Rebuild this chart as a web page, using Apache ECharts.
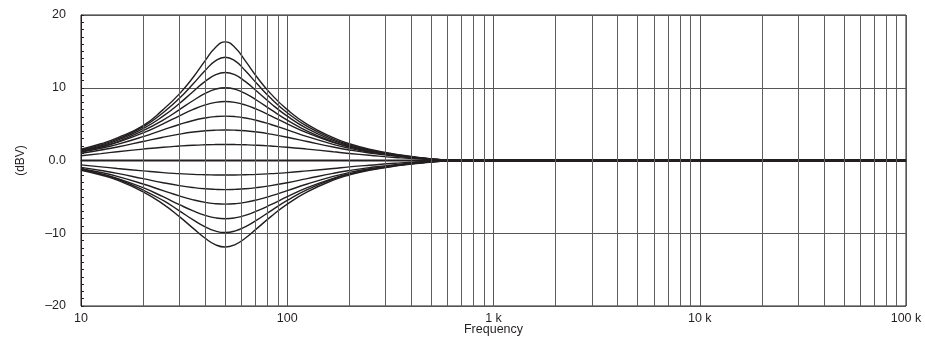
<!DOCTYPE html>
<html>
<head>
<meta charset="utf-8">
<script src="https://cdn.jsdelivr.net/npm/echarts@6/dist/echarts.min.js"></script>
<style>
  html, body { margin: 0; padding: 0; background: #fff; }
  #eqchart { width: 925px; height: 338px; }
</style>
</head>
<body>
<div id="eqchart"></div>
<script>
// frequency points (Hz) shared by every curve
var freqs = [10, 12.5, 15, 20, 25, 30, 35, 40, 45, 50, 55.6, 62.5, 71.4, 83.3, 100, 125, 167, 200, 250, 333, 500, 700, 100000];

// boost curves (dB)
var boost2  = [0.65, 0.95, 1.20, 1.57, 1.83, 1.99, 2.10, 2.16, 2.19, 2.2, 2.19, 2.16, 2.10, 1.99, 1.83, 1.57, 1.20, 0.97, 0.72, 0.42, 0.12, 0, 0];
var boost4  = [1.00, 1.45, 1.86, 2.61, 3.20, 3.62, 3.91, 4.08, 4.17, 4.2, 4.17, 4.08, 3.91, 3.62, 3.20, 2.61, 1.86, 1.45, 1.03, 0.60, 0.15, 0, 0];
var boost6  = [1.16, 1.68, 2.22, 3.28, 4.21, 4.95, 5.50, 5.85, 6.04, 6.1, 6.04, 5.85, 5.50, 4.95, 4.21, 3.28, 2.22, 1.68, 1.16, 0.68, 0.17, 0, 0];
var boost8  = [1.26, 1.85, 2.48, 3.79, 5.04, 6.14, 7.02, 7.64, 7.99, 8.1, 7.99, 7.64, 7.02, 6.14, 5.04, 3.79, 2.48, 1.85, 1.26, 0.72, 0.18, 0, 0];
var boost10 = [1.28, 1.89, 2.57, 4.10, 5.55, 6.99, 8.25, 9.22, 9.81, 10.0, 9.81, 9.22, 8.25, 6.99, 5.55, 4.04, 2.57, 1.89, 1.28, 0.74, 0.19, 0, 0];
var boost12 = [1.36, 2.02, 2.76, 4.38, 6.10, 7.84, 9.49, 10.87, 11.79, 12.1, 11.79, 10.87, 9.49, 7.84, 6.10, 4.38, 2.76, 2.02, 1.36, 0.78, 0.20, 0, 0];
var boost14 = [1.45, 2.15, 2.94, 4.62, 6.57, 8.55, 10.54, 12.38, 13.72, 14.2, 13.72, 12.38, 10.54, 8.55, 6.57, 4.68, 2.94, 2.15, 1.45, 0.83, 0.21, 0, 0];
var boost16 = [1.55, 2.30, 3.10, 4.80, 6.99, 9.16, 11.44, 13.72, 15.58, 16.3, 15.58, 13.72, 11.44, 9.16, 6.99, 4.97, 3.13, 2.30, 1.55, 0.88, 0.22, 0, 0];

// flat setting
var flat0 = [0, 0, 0, 0, 0, 0, 0, 0, 0, 0, 0, 0, 0, 0, 0, 0, 0, 0, 0, 0, 0, 0, 0];

// cut curves (dB)
var cut2  = [-0.60, -0.87, -1.10, -1.43, -1.67, -1.81, -1.91, -1.96, -1.99, -2.0, -1.99, -1.96, -1.91, -1.81, -1.67, -1.43, -1.10, -0.88, -0.65, -0.38, -0.11, 0, 0];
var cut4  = [-0.95, -1.38, -1.77, -2.49, -3.05, -3.45, -3.72, -3.89, -3.97, -4.0, -3.97, -3.89, -3.72, -3.45, -3.05, -2.49, -1.77, -1.38, -0.98, -0.57, -0.14, 0, 0];
var cut6  = [-1.14, -1.65, -2.18, -3.23, -4.14, -4.87, -5.41, -5.76, -5.94, -6.0, -5.94, -5.76, -5.41, -4.87, -4.14, -3.23, -2.18, -1.65, -1.14, -0.67, -0.17, 0, 0];
var cut8  = [-1.24, -1.83, -2.45, -3.74, -4.98, -6.07, -6.93, -7.55, -7.89, -8.0, -7.89, -7.55, -6.93, -6.07, -4.98, -3.74, -2.45, -1.83, -1.24, -0.71, -0.18, 0, 0];
var cut10 = [-1.27, -1.87, -2.54, -4.06, -5.49, -6.92, -8.17, -9.13, -9.71, -9.9, -9.71, -9.13, -8.17, -6.92, -5.49, -4.00, -2.54, -1.87, -1.27, -0.73, -0.19, 0, 0];
var cut12 = [-1.34, -1.99, -2.71, -4.31, -6.00, -7.71, -9.33, -10.69, -11.59, -11.9, -11.59, -10.69, -9.33, -7.71, -6.00, -4.31, -2.71, -1.99, -1.34, -0.77, -0.20, 0, 0];

// axis ticks and labels
var xTickValues = [10, 100, 1000, 10000, 100000];
var xTickText = ['10', '100', '1 k', '10 k', '100 k'];
var yTickValues = [-20, -10, 0, 10, 20];
var yTickText = ['\u201320', '\u201310', '0.0', '10', '20'];
var gridFreqs = [20, 30, 40, 50, 60, 70, 80, 90,
                 200, 300, 400, 500, 600, 700, 800, 900,
                 2000, 3000, 4000, 5000, 6000, 7000, 8000, 9000,
                 20000, 30000, 40000, 50000, 60000, 70000, 80000, 90000];

var ink = '#231f20';
var fontFam = '"Liberation Sans", Arial, sans-serif';

function toPoints(vals) {
  return freqs.map(function (f, i) { return [f, vals[i]]; });
}

function curve(name, vals, width) {
  return {
    name: name,
    type: 'line',
    data: toPoints(vals),
    smooth: 0.5,
    showSymbol: false,
    silent: true,
    z: 3,
    lineStyle: { color: ink, width: width || 1.4 }
  };
}

var chart = echarts.init(document.getElementById('eqchart'), null, { renderer: 'canvas' });

var seriesList = [
  {
    name: 'grid',
    type: 'line',
    data: [],
    silent: true,
    z: 1,
    markLine: {
      silent: true,
      symbol: 'none',
      label: { show: false },
      lineStyle: { color: '#5e5e5e', type: 'solid', width: 1 },
      data: gridFreqs.map(function (f) { return { xAxis: f }; })
    }
  },
  curve('+2', boost2), curve('+4', boost4), curve('+6', boost6), curve('+8', boost8),
  curve('+10', boost10), curve('+12', boost12), curve('+14', boost14), curve('+16', boost16),
  curve('0', flat0, 2.2),
  curve('-2', cut2), curve('-4', cut4), curve('-6', cut6),
  curve('-8', cut8), curve('-10', cut10), curve('-12', cut12)
];

var option = {
  animation: false,
  backgroundColor: '#fff',
  textStyle: { fontFamily: fontFam, color: ink },
  grid: {
    left: 81, right: 19, top: 15, bottom: 32,
    outerBoundsMode: 'none',
    containLabel: false,
    show: true, borderColor: ink, borderWidth: 1
  },
  xAxis: {
    type: 'log',
    logBase: 10,
    min: 10,
    max: 100000,
    name: 'Frequency',
    nameLocation: 'middle',
    nameGap: 17,
    nameMoveOverlap: false,
    nameTextStyle: { fontSize: 12.5, color: ink, fontFamily: fontFam },
    axisLine: { show: true, lineStyle: { color: ink, width: 1 } },
    axisTick: { show: false },
    axisLabel: {
      margin: 6,
      fontSize: 12.5,
      color: ink,
      fontFamily: fontFam,
      formatter: function (v) {
        var k = xTickValues.indexOf(Math.round(v));
        return k >= 0 ? xTickText[k] : '';
      }
    },
    splitLine: { show: true, lineStyle: { color: '#555', width: 1 } },
    minorTick: { show: false },
    minorSplitLine: { show: false }
  },
  yAxis: {
    type: 'value',
    min: -20,
    max: 20,
    interval: 10,
    name: '(dBV)',
    nameLocation: 'middle',
    nameGap: 54,
    nameMoveOverlap: false,
    nameRotate: 90,
    nameTextStyle: { fontSize: 12, color: ink, fontFamily: fontFam },
    axisLine: { show: true, lineStyle: { color: ink, width: 1 } },
    axisTick: { show: true, inside: true, length: 3, lineStyle: { color: ink } },
    minorTick: { show: true, splitNumber: 10, length: 3, lineStyle: { color: ink } },
    axisLabel: {
      margin: 15,
      fontSize: 12.5,
      color: ink,
      fontFamily: fontFam,
      formatter: function (v) {
        var k = yTickValues.indexOf(v);
        return k >= 0 ? yTickText[k] : '';
      }
    },
    splitLine: { show: true, lineStyle: { color: '#555', width: 1 } }
  },
  series: seriesList
};

option && chart.setOption(option);
window.addEventListener('resize', function () { chart.resize(); });
</script>
</body>
</html>
